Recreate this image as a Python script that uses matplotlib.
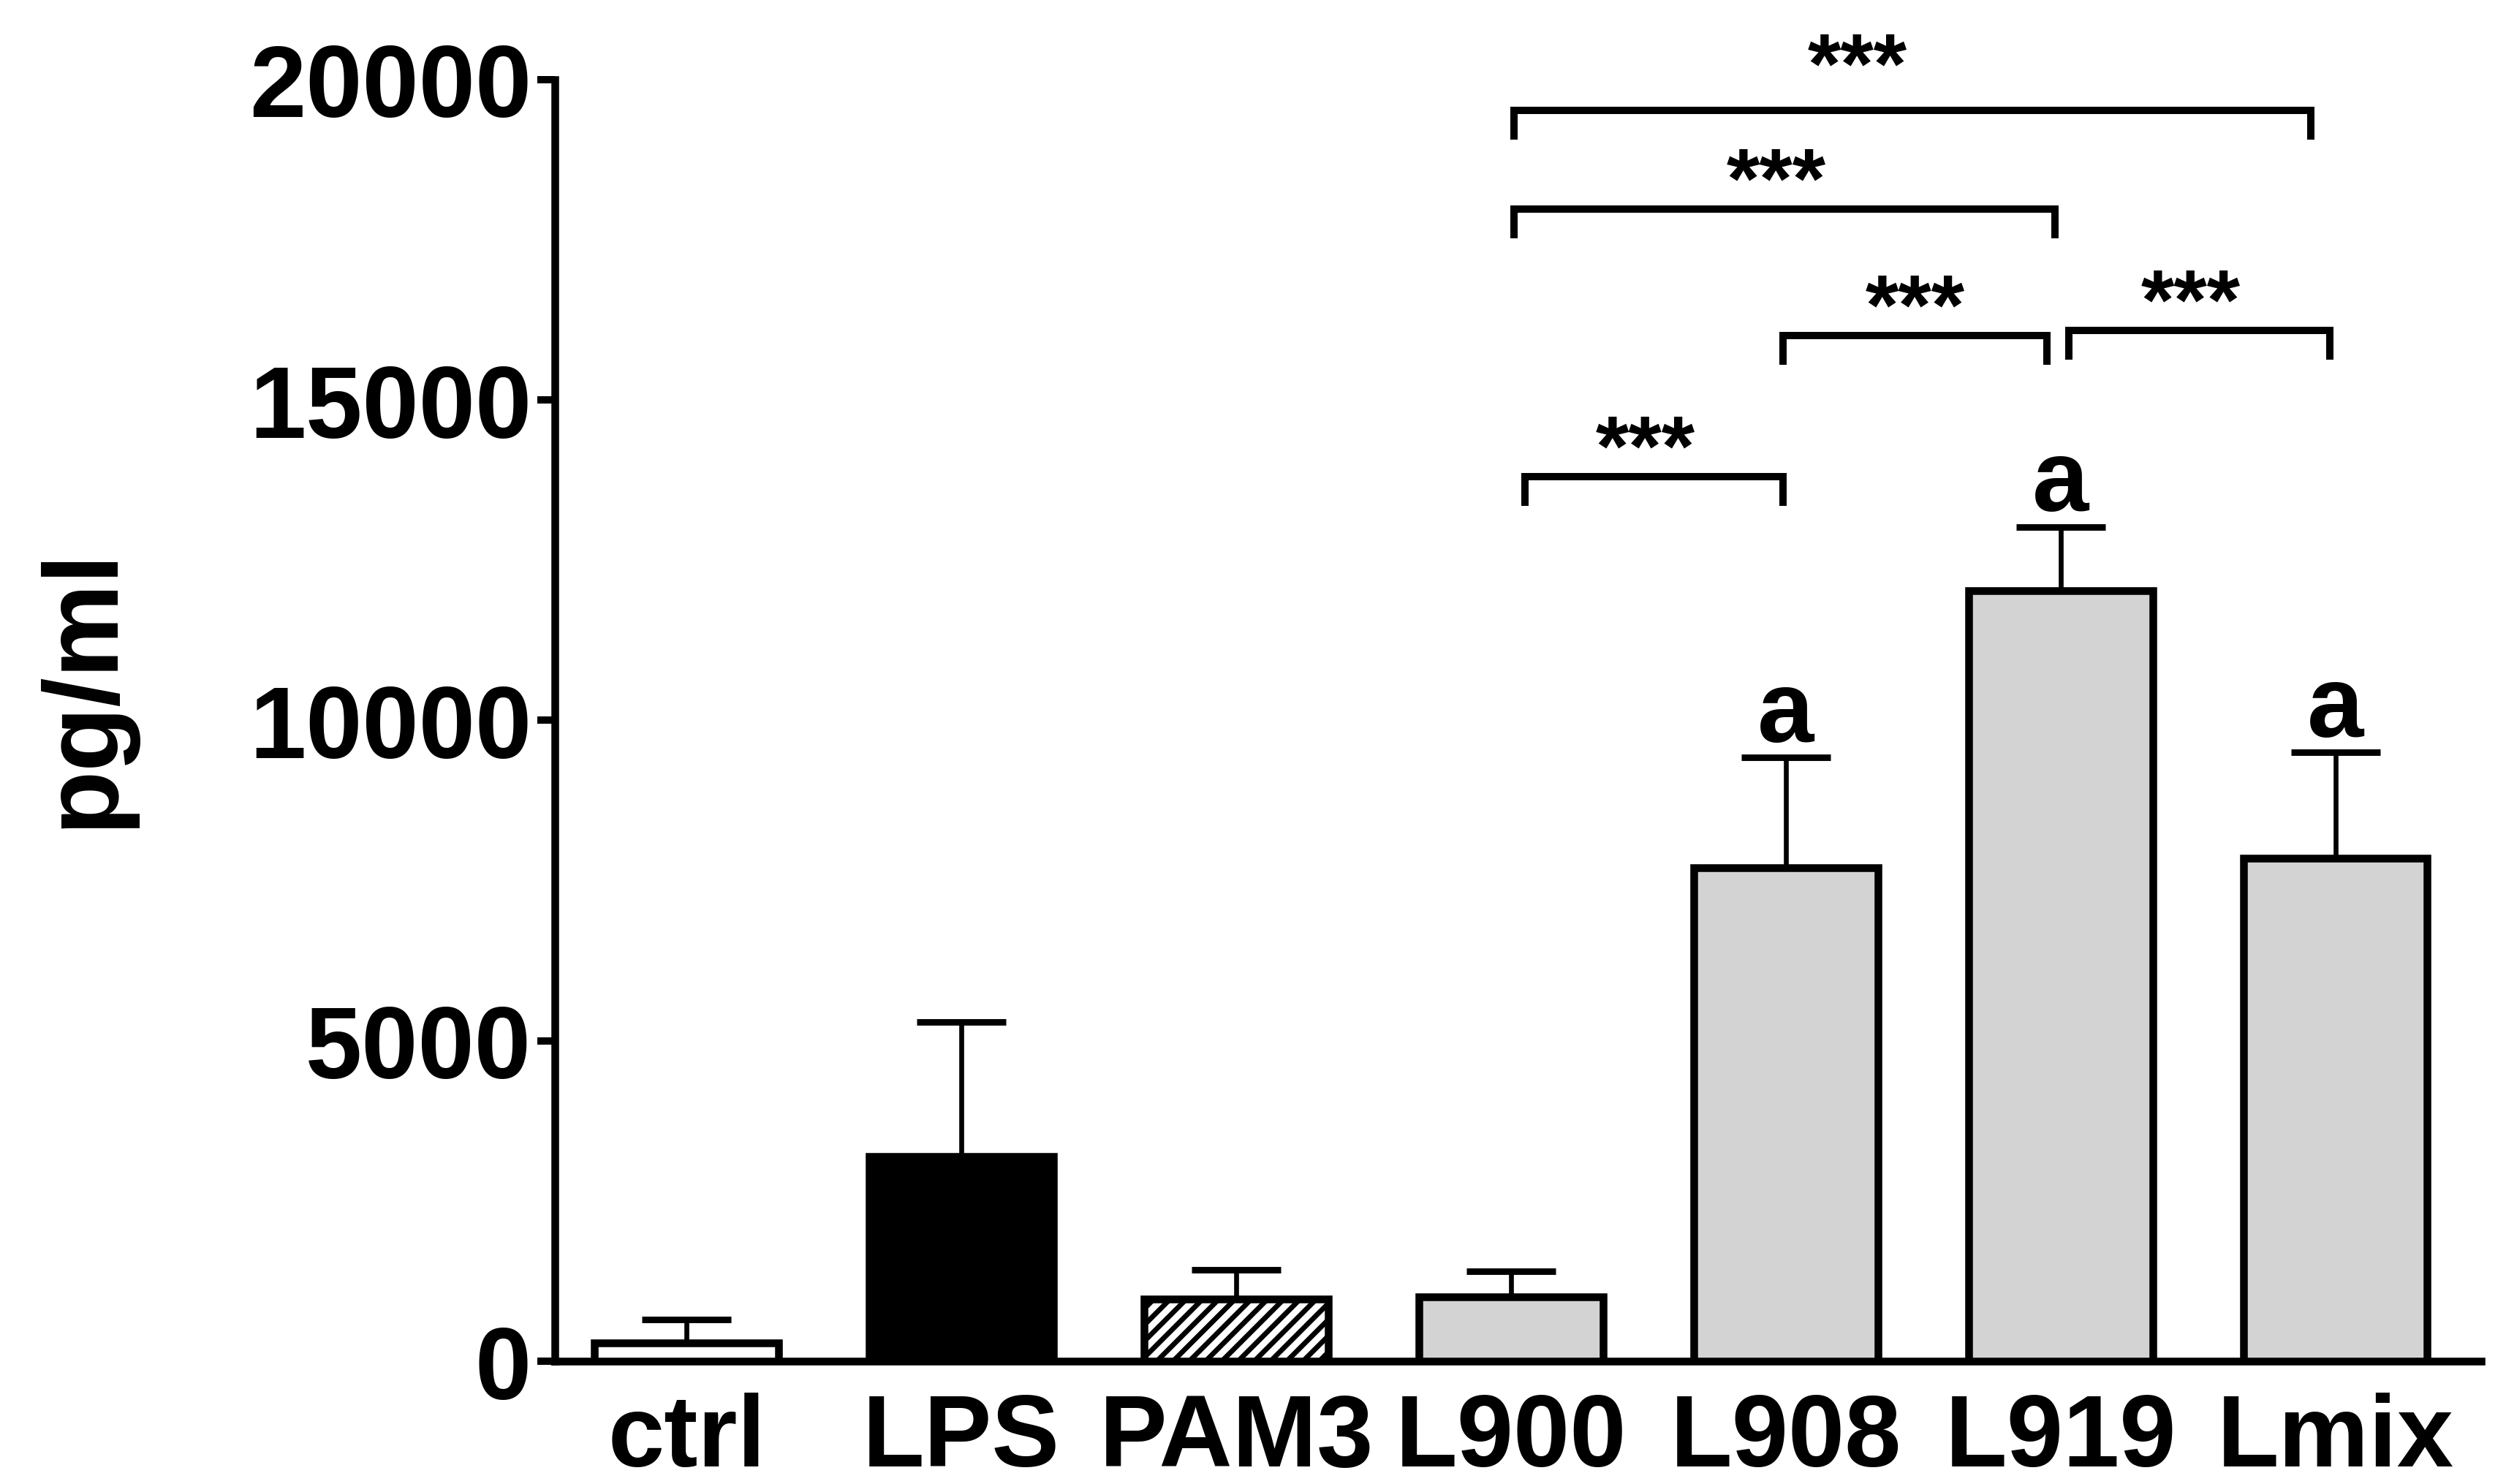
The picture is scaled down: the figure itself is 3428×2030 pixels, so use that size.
import matplotlib.pyplot as plt
import numpy as np

plt.rcParams['font.family'] = ['Liberation Sans', 'DejaVu Sans']
plt.rcParams['font.weight'] = 'bold'
plt.rcParams['hatch.linewidth'] = 2.5

groups = ["ctrl", "LPS", "PAM3", "L900", "L908", "L919", "Lmix"]
means = [280, 3190, 975, 1000, 7700, 12020, 7850]
errs = [370, 2100, 450, 400, 1720, 1000, 1650]
fills = ["white", "black", "white", "#d3d3d3", "#d3d3d3", "#d3d3d3", "#d3d3d3"]
hatches = ["", "", "///", "", "", "", ""]
letters = ["", "", "", "", "a", "a", "a"]

# significance brackets: (left group, right group), height, label
sig_pairs = [("L900", "L908"), ("L908", "L919"), ("L919", "Lmix"), ("L900", "L919"), ("L900", "Lmix")]
sig_heights = [13800, 16000, 16080, 17980, 19520]
sig_labels = ["***", "***", "***", "***", "***"]
# small hand-drawn offsets of bracket ends (left, right) and star shift
sig_offsets = [(0.05, -0.01), (-0.01, -0.05), (0.03, -0.02), (0.01, -0.02), (0.01, -0.09)]
star_shift = [-0.03, 0.0, -0.03, -0.03, -0.2]
star_dy = [0, 0, 0, 0, 250]

fig = plt.figure(figsize=(17.14, 10.155), dpi=200)
ax = fig.add_axes([0.2214, 0.0827, 0.7686, 0.8633])

x = np.arange(len(groups))
bars = ax.bar(x, means, width=0.67, color=fills, edgecolor="black", linewidth=3.8, zorder=3)
for b, h in zip(bars, hatches):
    if h:
        b.set_hatch(h)

ax.errorbar(x, means, yerr=[np.zeros(len(errs)), errs], fmt="none", ecolor="black",
            elinewidth=2.4, capsize=22, capthick=3.2, zorder=2)

for xi, m, e, l in zip(x, means, errs, letters):
    if l:
        ax.annotate(l, (xi, m + e), xytext=(0, 8), textcoords="offset points",
                    ha="center", va="baseline", fontsize=50, fontweight="bold")

drop = 400
for (g1, g2), h, lab, (o1, o2), s, dy in zip(sig_pairs, sig_heights, sig_labels,
                                             sig_offsets, star_shift, star_dy):
    x1 = groups.index(g1) + o1
    x2 = groups.index(g2) + o2
    ax.plot([x1, x1, x2, x2], [h - drop, h, h, h - drop], color="black", lw=3.6,
            solid_joinstyle="miter", clip_on=False, zorder=4)
    ax.text((x1 + x2) / 2 + s, h - 245 + dy, lab, ha="center", va="bottom", fontsize=42,
            fontweight="bold", clip_on=False)

ax.set_xlim(-0.48, 6.53)
ax.set_ylim(0, 20000)
ax.set_yticks([0, 5000, 10000, 15000, 20000])
ax.set_xticks(x)
ax.set_xticklabels(groups)
ax.tick_params(axis="y", direction="out", length=8.5, width=3.6, labelsize=50, pad=3)
ax.tick_params(axis="x", length=0, labelsize=50, pad=15)
for t in ax.get_xticklabels() + ax.get_yticklabels():
    t.set_fontweight("bold")

ax.spines["top"].set_visible(False)
ax.spines["right"].set_visible(False)
ax.spines["left"].set_linewidth(3.8)
ax.spines["bottom"].set_linewidth(3.8)

fig.text(0.0336, 0.537, "pg/ml", rotation=90, ha="center", va="center",
         fontsize=52, fontweight="bold")

fig.savefig("out.png", dpi=200)
